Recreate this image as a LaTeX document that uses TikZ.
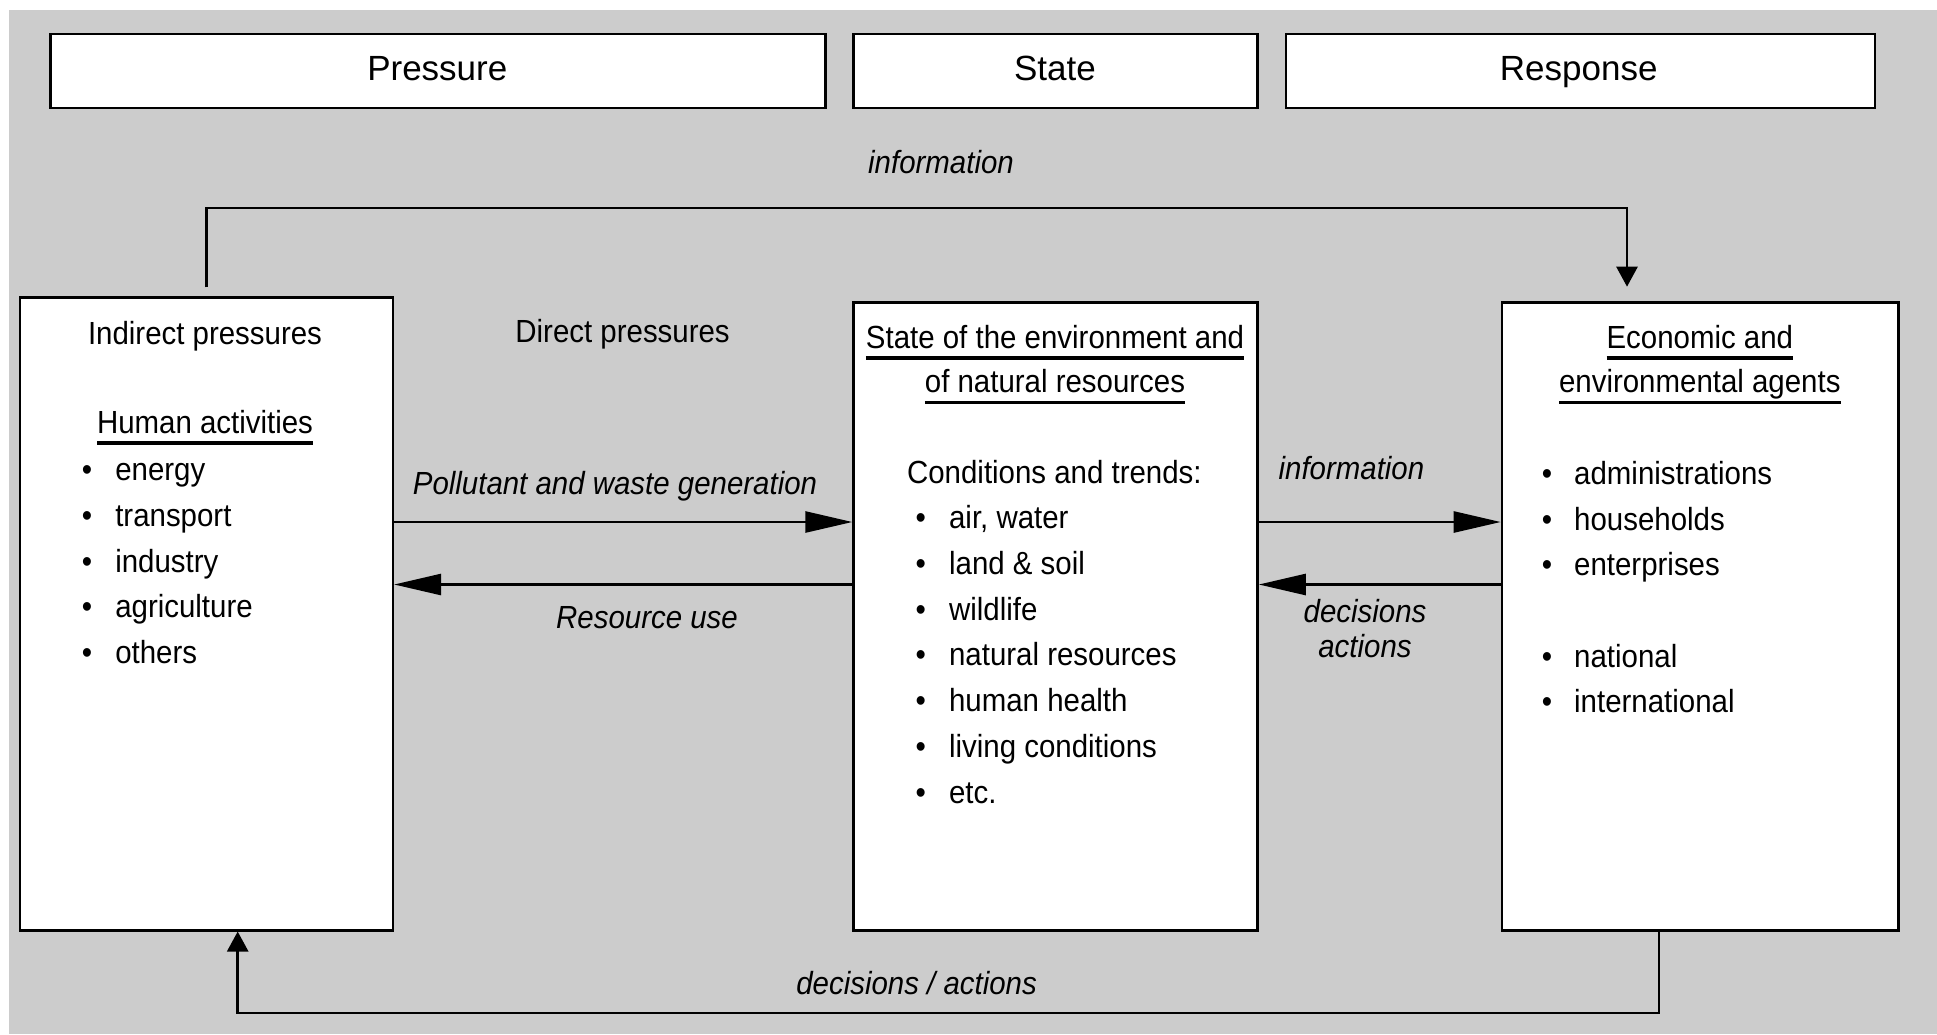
\documentclass[tikz,border=0pt]{standalone}
\usepackage{fontspec}
\setmainfont[FakeStretch=0.92]{Liberation Sans}
\newfontfamily{\hdrfont}{Liberation Sans}
\usetikzlibrary{arrows.meta,calc}
\definecolor{bggray}{RGB}{204,204,204}
\newsavebox{\myulbox}
\newcommand{\myul}[1]{\sbox{\myulbox}{#1}\rlap{\usebox{\myulbox}}\rule[-5.6pt]{\wd\myulbox}{1.8pt}}
\tikzset{
  box/.style={draw, line width=1.3pt, fill=white, inner sep=0pt},
  hdr/.style={inner sep=0pt, anchor=base, font=\hdrfont\fontsize{17.5}{21}\selectfont},
  lbl/.style={inner sep=0pt, anchor=mid, yshift=-3pt, font=\fontsize{16}{19}\selectfont},
  ilbl/.style={lbl, font=\fontsize{16}{19}\selectfont\itshape},
  item/.style={inner sep=0pt, anchor=mid west, yshift=-3pt, font=\fontsize{16}{19}\selectfont},
  conn/.style={line width=1.3pt},
  bigarrow/.style={conn, -{Triangle[length=23.5pt,width=10.5pt]}},
  smallarrow/.style={conn, -{Triangle[length=10pt,width=10.5pt]}}
}
\newcommand{\bul}[1]{\makebox[#1][l]{•}}
\begin{document}
\begin{tikzpicture}[x=0.5pt,y=-0.5pt]
\useasboundingbox (0,0) rectangle (1937,1034);
\fill[bggray] (9,10) rectangle (1937,1034);

% header boxes
\node[box, minimum width=387.3pt, minimum height=37pt] (hp) at (437.9,71) {};
\node[box, minimum width=201.95pt, minimum height=37pt] (hs) at (1055.55,71) {};
\node[box, minimum width=294.5pt, minimum height=37pt] (hr) at (1580.5,71) {};
\node[hdr] (hpt) at (437.3,80) {Pressure};
\node[hdr] (hst) at (1055,80) {State};
\node[hdr] (hrt) at (1578.7,80) {Response};

% main boxes
\node[box, minimum width=186.5pt, minimum height=316.25pt] (ind) at (206.3,613.95) {};
\node[box, minimum width=201.95pt, minimum height=313.8pt] (env) at (1055.55,616.4) {};
\node[box, minimum width=198.35pt, minimum height=313.8pt] (agt) at (1700.35,616.4) {};

% indirect pressures box text
\node[lbl] (indt) at (205,333.5) {Indirect pressures};
\node[lbl] (hum) at (205,422.5) {\myul{Human activities}};
\node[item] (i1) at (81.4,469.4) {\bul{16.75pt}energy};
\node[item] (i2) at (81.4,515.1) {\bul{16.75pt}transport};
\node[item] (i3) at (81.4,560.8) {\bul{16.75pt}industry};
\node[item] (i4) at (81.4,606.5) {\bul{16.75pt}agriculture};
\node[item] (i5) at (81.4,652.2) {\bul{16.75pt}others};

\node[lbl] (dirp) at (622.6,331) {Direct pressures};

% state box text
\node[lbl] (envt1) at (1055,337.2) {\myul{State of the environment and}};
\node[lbl] (envt2) at (1055,381.7) {\myul{of natural resources}};
\node[item] (cond) at (906.7,471.9) {Conditions and trends:};
\node[item] (e1) at (915.1,517.6) {\bul{16.8pt}air, water};
\node[item] (e2) at (915.1,563.3) {\bul{16.8pt}land \& soil};
\node[item] (e3) at (915.1,609.0) {\bul{16.8pt}wildlife};
\node[item] (e4) at (915.1,654.7) {\bul{16.8pt}natural resources};
\node[item] (e5) at (915.1,700.4) {\bul{16.8pt}human health};
\node[item] (e6) at (915.1,746.1) {\bul{16.8pt}living conditions};
\node[item] (e7) at (915.1,791.8) {\bul{16.8pt}etc.};

% agents box text
\node[lbl] (agt1) at (1699.8,337.2) {\myul{Economic and}};
\node[lbl] (agt2) at (1699.8,381.7) {\myul{environmental agents}};
\node[item] (a1) at (1541.4,473.1) {\bul{16.2pt}administrations};
\node[item] (a2) at (1541.4,518.8) {\bul{16.2pt}households};
\node[item] (a3) at (1541.4,564.5) {\bul{16.2pt}enterprises};
\node[item] (a4) at (1541.4,655.9) {\bul{16.2pt}national};
\node[item] (a5) at (1541.4,701.7) {\bul{16.2pt}international};

% connector labels
\node[ilbl] (infotop) at (941,162) {information};
\node[ilbl] (poll) at (615,483) {Pollutant and waste generation};
\node[ilbl] (res) at (647,617.6) {Resource use};
\node[ilbl] (infomid) at (1351.4,468) {information};
\node[ilbl] (dec1) at (1365,611.5) {decisions};
\node[ilbl] (dec2) at (1365,646) {actions};
\node[ilbl] (decbot) at (916.6,983.3) {decisions / actions};

% horizontal arrows
\draw[bigarrow] (ind.east |- 0,522) -- (env.west |- 0,522);
\draw[bigarrow] (env.west |- 0,584.5) -- (ind.east |- 0,584.5);
\draw[bigarrow] (env.east |- 0,522) -- (agt.west |- 0,522);
\draw[bigarrow] (agt.west |- 0,584.5) -- (env.east |- 0,584.5);

% top information loop
\coordinate (itop) at (1627,208);
\path (agt.north -| itop) ++(0,-14.6) coordinate (atip);
\path (ind.north) ++(0,-9) coordinate (istart);
\draw[smallarrow] (istart) |- (itop) -- (atip);

% bottom decisions loop
\coordinate (b1) at (1659,1013);
\coordinate (b2) at (237.7,1013);
\draw[smallarrow] (agt.south -| b1) -- (b1) -- (b2) -- (ind.south -| b2);
\end{tikzpicture}
\end{document}
